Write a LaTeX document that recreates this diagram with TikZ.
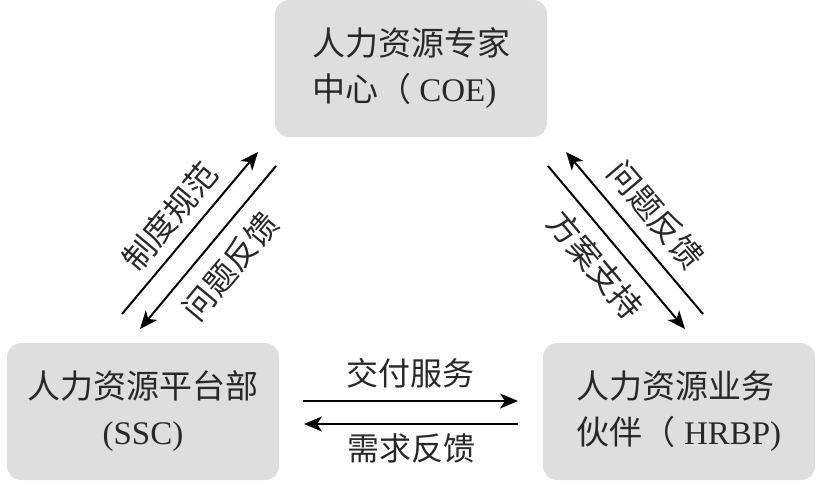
\documentclass[tikz,border=0pt]{standalone}
\usepackage{fontspec}
\setmainfont{Liberation Serif}
\newfontfamily\cjk{Noto Sans CJK SC}
\usetikzlibrary{arrows.meta}
\definecolor{boxGray}{RGB}{222,222,222}
\definecolor{textGray}{RGB}{40,40,40}

\begin{document}
\begin{tikzpicture}
[x=1pt,y=-1pt,
  boxDecorate/.style={shape=rectangle,rounded corners=14pt,fill=boxGray,
    minimum width=272pt,minimum height=137pt,text=textGray,
    font=\cjk\fontsize{33}{46}\selectfont},
  lineDecorate/.style={-{Stealth[length=18pt,width=15pt,inset=5pt]},line width=2pt},
  labelDecorate/.style={font=\cjk\fontsize{32}{40}\selectfont,text=textGray}]
\useasboundingbox (0,0) rectangle (816,487);
%% boxes
\node (coe) at (411,68.5) [boxDecorate,align=left] {人力资源专家\\中心（{\rmfamily\ COE)}};
\node (ssc) at (143,411.5) [boxDecorate,align=center] {人力资源平台部\\{\rmfamily (SSC)}};
\node (hrbp) at (679,411.5) [boxDecorate,align=left] {人力资源业务\\伙伴（{\rmfamily\ HRBP)}};
%% arrow ends
\foreach \pointname/\x/\y in {
  p1/122/314, p2/258/152, p3/276/166, p4/140/329,
  p5/703/314, p6/566/152, p7/548/166, p8/685/329,
  p9/303/401, p10/518/401, p11/518/424, p12/304/424}
{
  \coordinate (\pointname) at (\x,\y);
}
%% arrows
\draw[lineDecorate] (p1) -- (p2) node[midway,sloped,above=7pt,labelDecorate] {制度规范};
\draw[lineDecorate] (p3) -- (p4) node[midway,sloped,below=10pt,labelDecorate] {问题反馈};
\draw[lineDecorate] (p5) -- (p6) node[midway,sloped,above=9pt,labelDecorate] {问题反馈};
\draw[lineDecorate] (p7) -- (p8) node[midway,sloped,below=8pt,labelDecorate] {方案支持};
\draw[lineDecorate] (p9) -- (p10) node[midway,above=9pt,labelDecorate] {交付服务};
\draw[lineDecorate] (p11) -- (p12) node[midway,below=5pt,labelDecorate] {需求反馈};
\end{tikzpicture}
\end{document}
